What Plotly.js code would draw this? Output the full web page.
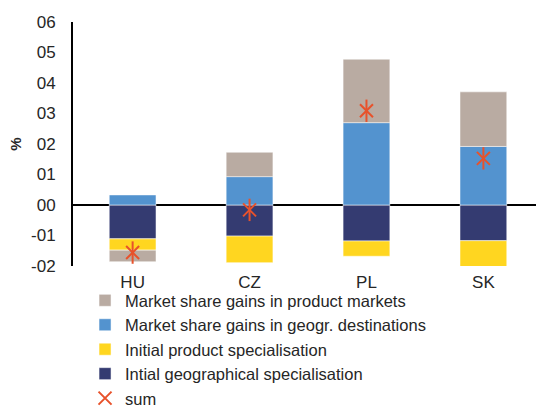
<!DOCTYPE html>
<html>
<head>
<meta charset="utf-8">
<script src="https://cdn.plot.ly/plotly-3.0.1.min.js"></script>
<style>html,body{margin:0;padding:0;background:#fff}#chart{width:536px;height:410px}</style>
</head>
<body>
<div id="chart"></div>
<script>
var countries = ["HU", "CZ", "PL", "SK"];
var productMarkets = [-0.038, 0.080, 0.208, 0.179];
var geogrDestinations = [0.033, 0.093, 0.270, 0.192];
var initialProduct = [-0.037, -0.087, -0.050, -0.089];
var initialGeographical = [-0.111, -0.102, -0.118, -0.117];
var sumValues = [-0.156, -0.016, 0.309, 0.153];
var tickValues = [-0.2, -0.1, 0, 0.1, 0.2, 0.3, 0.4, 0.5, 0.6];
var tickLabels = ["-02", "-01", "00", "01", "02", "03", "04", "05", "06"];

var edge = {color: "rgba(255,255,255,0.5)", width: 1};
var traces = [
  {type: "bar", name: "Intial geographical specialisation", x: countries, y: initialGeographical,
   marker: {color: "#343B71", line: edge}, width: 0.4, legendrank: 4, legendgroup: "d"},
  {type: "bar", name: "Initial product specialisation", x: countries, y: initialProduct,
   marker: {color: "#FFD620", line: edge}, width: 0.4, legendrank: 3, legendgroup: "c"},
  {type: "bar", name: "Market share gains in geogr. destinations", x: countries, y: geogrDestinations,
   marker: {color: "#5393CF", line: edge}, width: 0.4, legendrank: 2, legendgroup: "b"},
  {type: "bar", name: "Market share gains in product markets", x: countries, y: productMarkets,
   marker: {color: "#B9ABA2", line: edge}, width: 0.4, legendrank: 1, legendgroup: "a"},
  {type: "scatter", mode: "markers", name: "sum", x: countries, y: sumValues,
   marker: {symbol: "x-thin-open", size: 13, color: "#E8522B", line: {color: "#E8522B", width: 2}},
   legendrank: 5, legendgroup: "e"},
  {type: "scatter", mode: "markers", name: "sum", x: countries, y: sumValues, showlegend: false,
   marker: {symbol: "line-ns-open", size: 16, color: "#E8522B", line: {color: "#E8522B", width: 2}},
   legendgroup: "e"}
];

var layout = {
  width: 536, height: 410,
  margin: {l: 73, r: 0, t: 22, b: 144, autoexpand: false},
  paper_bgcolor: "#fff", plot_bgcolor: "#fff",
  barmode: "relative",
  font: {family: "Liberation Sans, Arial, sans-serif", size: 17, color: "#262626"},
  showlegend: true,
  legend: {x: 0.026, xref: "paper", xanchor: "left", y: -0.07, yanchor: "top",
           font: {size: 16.5, color: "#262626"}, tracegroupgap: 0, bgcolor: "rgba(0,0,0,0)"},
  xaxis: {type: "category", range: [-0.51, 3.45], showline: false, showgrid: false,
          zeroline: false, ticks: "", tickfont: {size: 17}, ticklabelstandoff: 4},
  yaxis: {range: [-0.2, 0.6], tickvals: tickValues, ticktext: tickLabels, showgrid: false,
          showline: true, linecolor: "#000", linewidth: 2, ticks: "",
          zeroline: true, zerolinecolor: "#000", zerolinewidth: 2,
          ticklabelstandoff: 12, tickfont: {size: 17},
          title: {text: "<b>%</b>", font: {size: 15}, standoff: 6}}
};

Plotly.newPlot("chart", traces, layout, {displayModeBar: false, staticPlot: true});
</script>
</body>
</html>
